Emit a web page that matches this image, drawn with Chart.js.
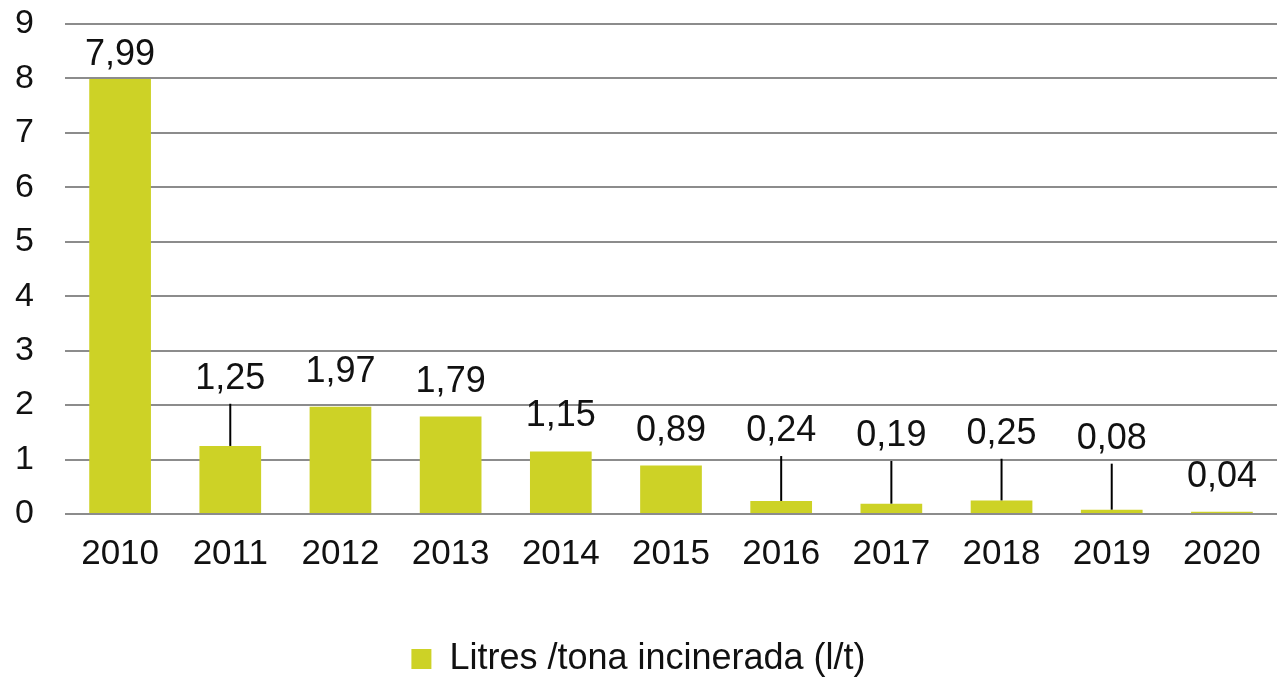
<!DOCTYPE html>
<html>
<head>
<meta charset="utf-8">
<script src="https://cdn.jsdelivr.net/npm/chart.js@4"></script>
<style>
  html, body { margin: 0; padding: 0; background: #fff; }
  #wrap { width: 1277px; height: 677px; }
</style>
</head>
<body>
<div id="wrap"><canvas id="chart" width="1277" height="677"></canvas></div>
<script>
// Litres per tonne incinerated, 2010-2020
const years = ["2010", "2011", "2012", "2013", "2014", "2015", "2016", "2017", "2018", "2019", "2020"]
const litresPerTonne = [7.99, 1.25, 1.97, 1.79, 1.15, 0.89, 0.24, 0.19, 0.25, 0.08, 0.04]
const yTicks = [0, 1, 2, 3, 4, 5, 6, 7, 8, 9]

const barColor = "#CDD226"
const font = "'Liberation Sans', Arial, sans-serif"

// data labels with leader lines (label baseline given in axis units, null = default spot)
const barLabels = {
  id: "barLabels",
  afterDatasetsDraw(chart, args, opts) {
    const ctx = chart.ctx
    const yScale = chart.scales.y
    const meta = chart.getDatasetMeta(0)
    ctx.save()
    ctx.font = "36px " + font
    ctx.fillStyle = "#111"
    ctx.textAlign = "center"
    ctx.textBaseline = "alphabetic"
    meta.data.forEach((bar, i) => {
      const v = chart.data.datasets[0].data[i]
      const text = v.toFixed(2).replace(".", ",")
      const lift = opts.baseline[i]
      let y = lift == null ? bar.y - 25 : yScale.getPixelForValue(lift)
      ctx.fillText(text, bar.x, y)
      if (lift != null && bar.y - (y + 15) > 25) {
        ctx.beginPath()
        ctx.strokeStyle = "#000"
        ctx.lineWidth = 2
        ctx.moveTo(bar.x, y + 15)
        ctx.lineTo(bar.x, bar.y)
        ctx.stroke()
      }
    })
    ctx.restore()
  }
}

new Chart(document.getElementById("chart"), {
  type: "bar",
  data: {
    labels: years,
    datasets: [{
      label: "Litres /tona incinerada (l/t)",
      data: litresPerTonne,
      backgroundColor: barColor,
      borderWidth: 0,
      barPercentage: 0.56,
      categoryPercentage: 1
    }]
  },
  options: {
    responsive: false,
    animation: false,
    layout: { padding: { top: 24, right: 0, left: 0, bottom: -10 } },
    plugins: {
      tooltip: { enabled: false },
      legend: {
        position: "bottom",
        labels: {
          font: { family: font, size: 36 },
          color: "#111",
          boxWidth: 20,
          boxHeight: 20,
          padding: 4
        }
      },
      barLabels: {
        baseline: [8.25, 2.30, null, null, null, null, 1.34, 1.25, 1.29, 1.20, 0.50]
      }
    },
    scales: {
      y: {
        min: 0,
        max: 9,
        afterBuildTicks: s => { s.ticks = yTicks.map(v => ({ value: v })) },
        afterFit: s => {
          s.width = 65
          s.paddingTop = 0
          s.paddingBottom = 0
        },
        border: { display: false },
        grid: { color: "#8c8c8c", lineWidth: 2, drawTicks: false },
        ticks: {
          padding: 31,
          color: "#111",
          font: { family: font, size: 34 }
        }
      },
      x: {
        afterFit: s => { s.height = 123 },
        border: { display: false },
        grid: { display: false },
        ticks: {
          padding: 11,
          color: "#111",
          maxRotation: 0,
          autoSkip: false,
          font: { family: font, size: 35 }
        }
      }
    }
  },
  plugins: [barLabels]
})
</script>
</body>
</html>
